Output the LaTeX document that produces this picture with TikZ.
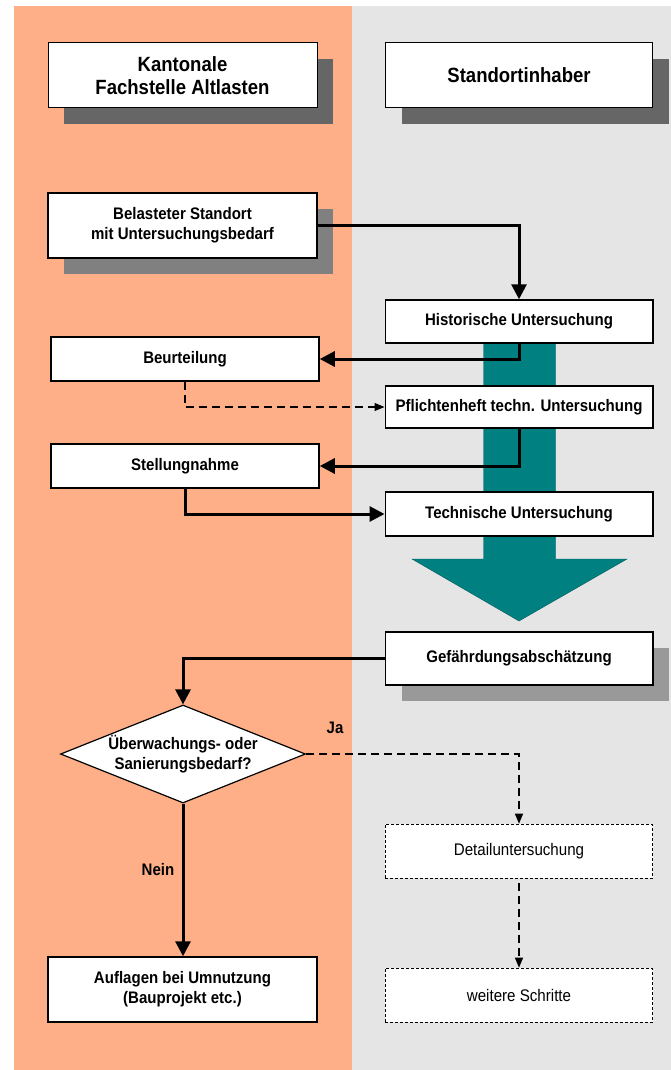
\documentclass[tikz,border=0pt]{standalone}
\usepackage{fontspec}
\setmainfont[FakeStretch=0.9]{Liberation Sans}
\usetikzlibrary{arrows.meta,shapes.geometric}
\definecolor{laneL}{RGB}{255,175,135}
\definecolor{laneR}{RGB}{229,229,229}
\definecolor{tealA}{RGB}{0,128,128}
\definecolor{shadowA}{RGB}{102,102,102}
\definecolor{shadowB}{RGB}{128,128,128}
\definecolor{shadowC}{RGB}{153,153,153}
\tikzset{
  box/.style={draw=black,line width=1.5pt,fill=white,rectangle,inner sep=0pt,align=center,
    font=\fontsize{16.7}{20}\selectfont\bfseries},
  hdr/.style={box,line width=1pt,font=\fontsize{20.6}{23.5}\selectfont\bfseries},
  dbox/.style={draw=black,line width=0.6pt,dash pattern=on 3pt off 2pt,fill=white,rectangle,inner sep=0pt,
    align=center,font=\fontsize{16.8}{20}\selectfont},
  flow/.style={line width=3pt,-{Triangle[length=15pt,width=15pt]}},
  dflow/.style={line width=1.1pt,dash pattern=on 8pt off 5pt,-{Triangle[length=10pt,width=8pt]}},
  lbl/.style={font=\fontsize{16.7}{20}\selectfont\bfseries,inner sep=0pt}
}
\begin{document}
\begin{tikzpicture}[x=1pt,y=-1pt]
\useasboundingbox (0,0) rectangle (671,1070);
% lanes
\fill[laneL] (14,6) rectangle (352,1070);
\fill[laneR] (352,6) rectangle (671,1070);
% shadows
\fill[shadowA] (64,59) rectangle (333,124);
\fill[shadowA] (401.5,59) rectangle (669,124);
\fill[shadowB] (64,209) rectangle (333,274);
\fill[shadowC] (401.5,648) rectangle (669,701);
% big teal arrow
\filldraw[fill=tealA,draw=tealA!70!black,line width=0.4pt]
  (483.5,343) -- (555.5,343) -- (555.5,559) -- (627,559) -- (519,621) -- (412,559) -- (483.5,559) -- cycle;
% nodes
\node[hdr,minimum width=269pt,minimum height=65pt] (hdrL) at (182.5,75.5) {Kantonale\\Fachstelle Altlasten};
\node[hdr,minimum width=267.5pt,minimum height=65pt] (hdrR) at (519,75.5) {Standortinhaber};
\node[box,minimum width=269pt,minimum height=65pt] (bel) at (182.5,225.5) {Belasteter Standort\\mit Untersuchungsbedarf};
\node[box,minimum width=267.5pt,minimum height=43pt] (hist) at (519,321.5) {Historische Untersuchung};
\node[box,minimum width=268pt,minimum height=44pt] (beur) at (185,359) {Beurteilung};
\node[box,minimum width=267.5pt,minimum height=42pt] (pfl) at (519,407) {Pflichtenheft techn. Untersuchung};
\node[box,minimum width=268pt,minimum height=44pt] (stel) at (185,466) {Stellungnahme};
\node[box,minimum width=267.5pt,minimum height=44pt] (tech) at (519,514) {Technische Untersuchung};
\node[box,minimum width=267.5pt,minimum height=53pt] (gef) at (519,658.5) {Gefährdungsabschätzung};
\node[box,diamond,aspect=2.5,line width=1.2pt,minimum width=245pt,minimum height=98pt] (dia) at (183,754) {Überwachungs- oder\\Sanierungsbedarf?};
\node[dbox,minimum width=267.5pt,minimum height=54pt] (det) at (519,851) {Detailuntersuchung};
\node[dbox,minimum width=267.5pt,minimum height=54pt] (weit) at (519,995) {weitere Schritte};
\node[box,minimum width=269pt,minimum height=65pt] (aufl) at (182.5,989.5) {Auflagen bei Umnutzung\\(Bauprojekt etc.)};
% labels
\node[lbl] (ja) at (335,728) {Ja};
\node[lbl] (nein) at (158,870) {Nein};
% connectors
\draw[flow] (bel.east) -| (hist.north);
\draw[flow] (hist.south) |- (beur.east);
\draw[dflow] (beur.south) |- (pfl.west);
\draw[flow] (pfl.south) |- (stel.east);
\draw[flow] (stel.south) |- (tech.west);
\draw[flow] (gef.west) -| (dia.north);
\draw[dflow] (dia.east) -| (det.north);
\draw[flow] (dia.south) -- (dia.south |- aufl.north);
\draw[dflow,shorten <=5pt] (det.south) -- (weit.north);
\end{tikzpicture}
\end{document}
